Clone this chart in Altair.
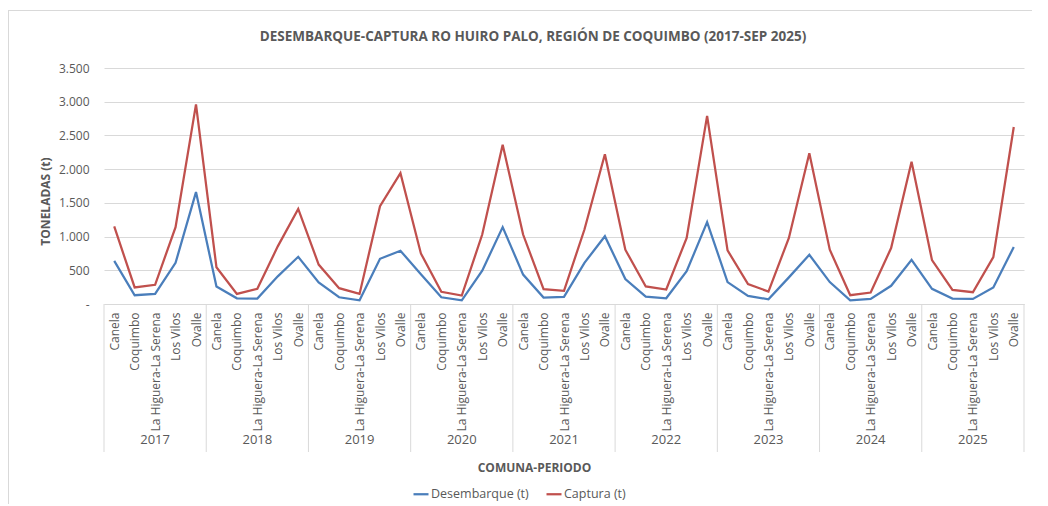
import altair as alt
import pandas as pd

comunas = ["Canela", "Coquimbo", "La Higuera-La Serena", "Los Vilos", "Ovalle"]
years = ["2017", "2018", "2019", "2020", "2021", "2022", "2023", "2024", "2025"]

desembarque = [
    640, 130, 150, 610, 1660,
    260, 85, 80, 410, 700,
    320, 100, 55, 670, 790,
    440, 100, 55, 495, 1140,
    436, 95, 105, 610, 1005,
    370, 110, 85, 485, 1215,
    325, 120, 70, 395, 730,
    325, 55, 75, 270, 655,
    225, 80, 75, 245, 845,
]
captura = [
    1150, 245, 285, 1140, 2960,
    545, 150, 225, 855, 1410,
    585, 235, 150, 1450, 1940,
    750, 180, 125, 1030, 2360,
    1030, 220, 195, 1105, 2220,
    805, 260, 215, 980, 2790,
    795, 295, 185, 980, 2235,
    805, 130, 170, 830, 2110,
    650, 210, 175, 695, 2625,
]
series = ["Desembarque (t)", "Captura (t)"]
colors = ["#4A7EBB", "#C0504D"]
y_ticks = [0, 500, 1000, 1500, 2000, 2500, 3000, 3500]
titulo = "DESEMBARQUE-CAPTURA RO HUIRO PALO, REGIÓN DE COQUIMBO (2017-SEP 2025)"

n = len(comunas) * len(years)
rows = []
for s, vals in zip(series, [desembarque, captura]):
    for i in range(n):
        rows.append({"idx": i, "serie": s, "valor": vals[i], "orden": series.index(s)})
df = pd.DataFrame(rows)

year_df = pd.DataFrame({"anio": years, "pos": [i * 5 + 2 for i in range(len(years))]})
sep_df = pd.DataFrame({"b": [i * 5 - 0.5 for i in range(len(years) + 1)]})

W, H = 920, 236
FONT = "Open Sans"
GRAY = "#595959"
BORDER = "#D9D9D9"

x_scale = alt.Scale(domain=[-0.5, n - 0.5], nice=False, zero=False)
y_scale = alt.Scale(domain=[0, 3500], nice=False)

label_expr = "[" + ",".join(f"'{c}'" for c in comunas) + "][datum.value % 5]"

x_axis = alt.Axis(
    values=list(range(n)),
    labelExpr=label_expr,
    labelAngle=-90,
    labelFlush=False,
    labelOverlap=False,
    labelBound=False,
    labelFontSize=12,
    labelColor=GRAY,
    labelPadding=8,
    ticks=False,
    grid=False,
    domainColor=BORDER,
    title="COMUNA-PERIODO",
    titleFontSize=12,
    titleFontWeight="bold",
    titleColor=GRAY,
    titleX=430,
    titleY=163,
    titleAlign="center",
    titleBaseline="middle",
)

lines = alt.Chart(df).mark_line(strokeWidth=2.25).encode(
    x=alt.X("idx:Q", scale=x_scale, axis=x_axis),
    y=alt.Y(
        "valor:Q",
        scale=y_scale,
        axis=alt.Axis(
            values=y_ticks,
            labelExpr="datum.value == 0 ? '-' : replace(format(datum.value, ','), ',', '.')",
            labelFontSize=12,
            labelColor=GRAY,
            labelPadding=15,
            ticks=False,
            domain=False,
            gridColor=BORDER,
            title="TONELADAS (t)",
            titleFontSize=12,
            titleFontWeight="bold",
            titleColor=GRAY,
            titleAngle=270,
            titleX=-59,
            titleY=133,
            titleAlign="center",
            titleBaseline="middle",
        ),
    ),
    color=alt.Color(
        "serie:N",
        scale=alt.Scale(domain=series, range=colors),
        legend=alt.Legend(
            orient="none",
            legendX=308,
            legendY=417,
            direction="horizontal",
            title=None,
            symbolType="stroke",
            symbolStrokeWidth=2.25,
            symbolSize=225,
            labelFontSize=12.5,
            labelColor=GRAY,
            labelOffset=1,
            columnPadding=13,
            padding=0,
        ),
    ),
    order=alt.Order("orden:Q"),
)

seps = alt.Chart(sep_df).mark_rule(color=BORDER, strokeWidth=1).encode(
    x=alt.X("b:Q", scale=x_scale, axis=x_axis),
    y=alt.value(H),
    y2=alt.value(384),
)

year_text = alt.Chart(year_df).mark_text(
    fontSize=13, color=GRAY, font=FONT, baseline="middle"
).encode(
    x=alt.X("pos:Q", scale=x_scale, axis=x_axis),
    y=alt.value(372),
    text="anio:N",
)

title_text = alt.Chart(pd.DataFrame({"t": [titulo]})).mark_text(
    fontSize=13.5, fontWeight="bold", color=GRAY, font=FONT, baseline="middle", align="center"
).encode(
    x=alt.value(429),
    y=alt.value(-31),
    text="t:N",
)

frame_df = pd.DataFrame({"f": [0]})
frame_left = alt.Chart(frame_df).mark_rule(color=BORDER, strokeWidth=1).encode(
    x=alt.value(-95.5), y=alt.value(-58), y2=alt.value(440)
)
frame_top = alt.Chart(frame_df).mark_rule(color=BORDER, strokeWidth=1).encode(
    x=alt.value(-96), x2=alt.value(930), y=alt.value(-57.5)
)

chart = alt.layer(frame_left, frame_top, lines, seps, year_text, title_text).properties(
    width=W,
    height=H,
    autosize=alt.AutoSizeParams(type="none"),
    padding={"left": 96, "top": 60, "right": 8, "bottom": 200},
).configure(
    font=FONT,
).configure_view(
    stroke=None,
).configure_axis(
    labelFont=FONT,
    titleFont=FONT,
).configure_legend(
    labelFont=FONT,
)

chart.save("out.html", embed_options={"renderer": "svg", "actions": False})
